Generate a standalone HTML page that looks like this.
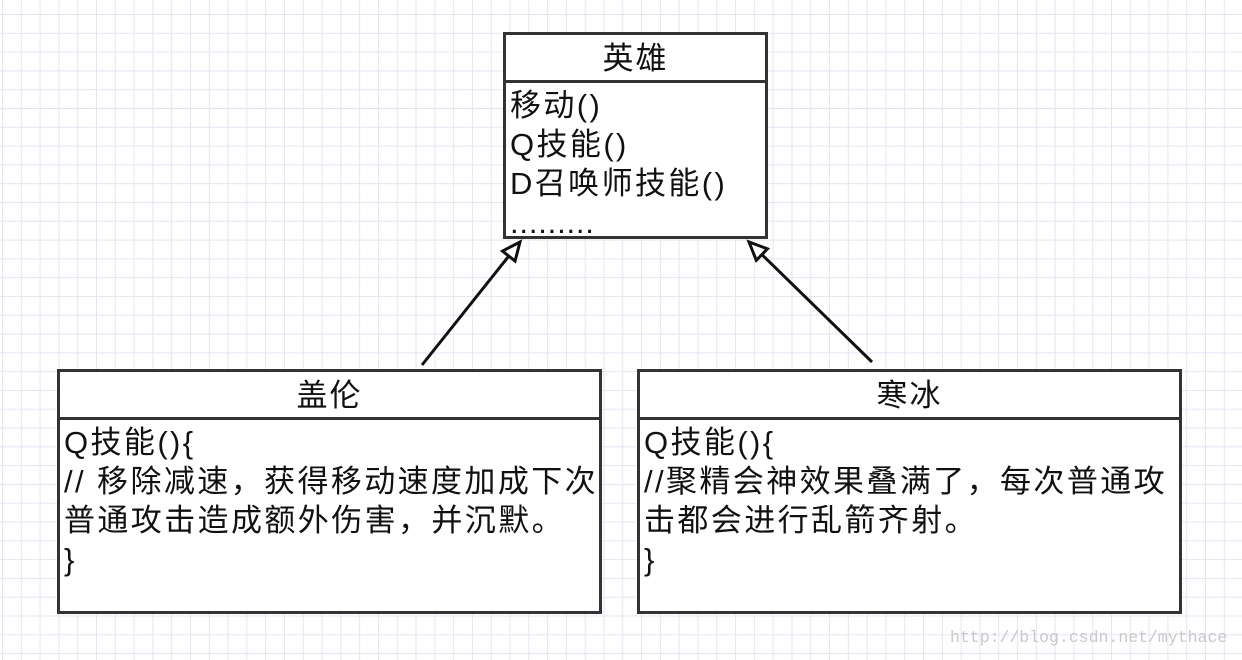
<!DOCTYPE html>
<html><head><meta charset="utf-8"><style>
html,body{margin:0;padding:0}
body{width:1242px;height:660px;overflow:hidden;position:relative;background:#fff;
background-image:
linear-gradient(to right,#e4e4f8 1px,transparent 1px),
linear-gradient(to bottom,#e4e4f8 1px,transparent 1px);
background-size:18.8px 18.8px;background-position:2px 14px;
font-family:"Liberation Sans","Noto Sans CJK SC",sans-serif;color:#111}
.box{position:absolute;border:3px solid #333;background:#fff;box-sizing:border-box}
.hd{height:48px;border-bottom:3px solid #333;text-align:center;font-size:31px;line-height:48px;box-sizing:border-box;letter-spacing:2px}
.bd{font-size:31px;line-height:39px;padding:3px 0 0 4px;white-space:pre;letter-spacing:2.4px}
.wm{position:absolute;left:950px;top:628px;font-family:"Liberation Mono",monospace;font-size:16.5px;color:#c8c8c8}
</style></head><body>
<svg width="1242" height="660" style="position:absolute;left:0;top:0">
<defs><marker id="a" markerWidth="24" markerHeight="24" refX="20" refY="10" orient="auto" markerUnits="userSpaceOnUse">
<path d="M2,2 L20,10 L2,18 Z" fill="#fff" stroke="#111" stroke-width="3"/></marker></defs>
<line x1="422" y1="365" x2="520" y2="242" stroke="#111" stroke-width="3" marker-end="url(#a)"/>
<line x1="872" y1="362" x2="749" y2="242" stroke="#111" stroke-width="3" marker-end="url(#a)"/>
</svg>
<div class="box" style="left:503px;top:32px;width:265px;height:207px">
<div class="hd">英雄</div>
<div class="bd">移动()
Q技能()
D召唤师技能()
<span style="letter-spacing:0.8px">.........</span></div></div>
<div class="box" style="left:57px;top:369px;width:545px;height:245px">
<div class="hd">盖伦</div>
<div class="bd">Q技能(){
// 移除减速，获得移动速度加成下次
普通攻击造成额外伤害，并沉默。
}</div></div>
<div class="box" style="left:637px;top:369px;width:545px;height:245px">
<div class="hd">寒冰</div>
<div class="bd">Q技能(){
//聚精会神效果叠满了，每次普通攻
击都会进行乱箭齐射。
}</div></div>
<div class="wm">http://blog.csdn.net/mythace</div>
</body></html>
